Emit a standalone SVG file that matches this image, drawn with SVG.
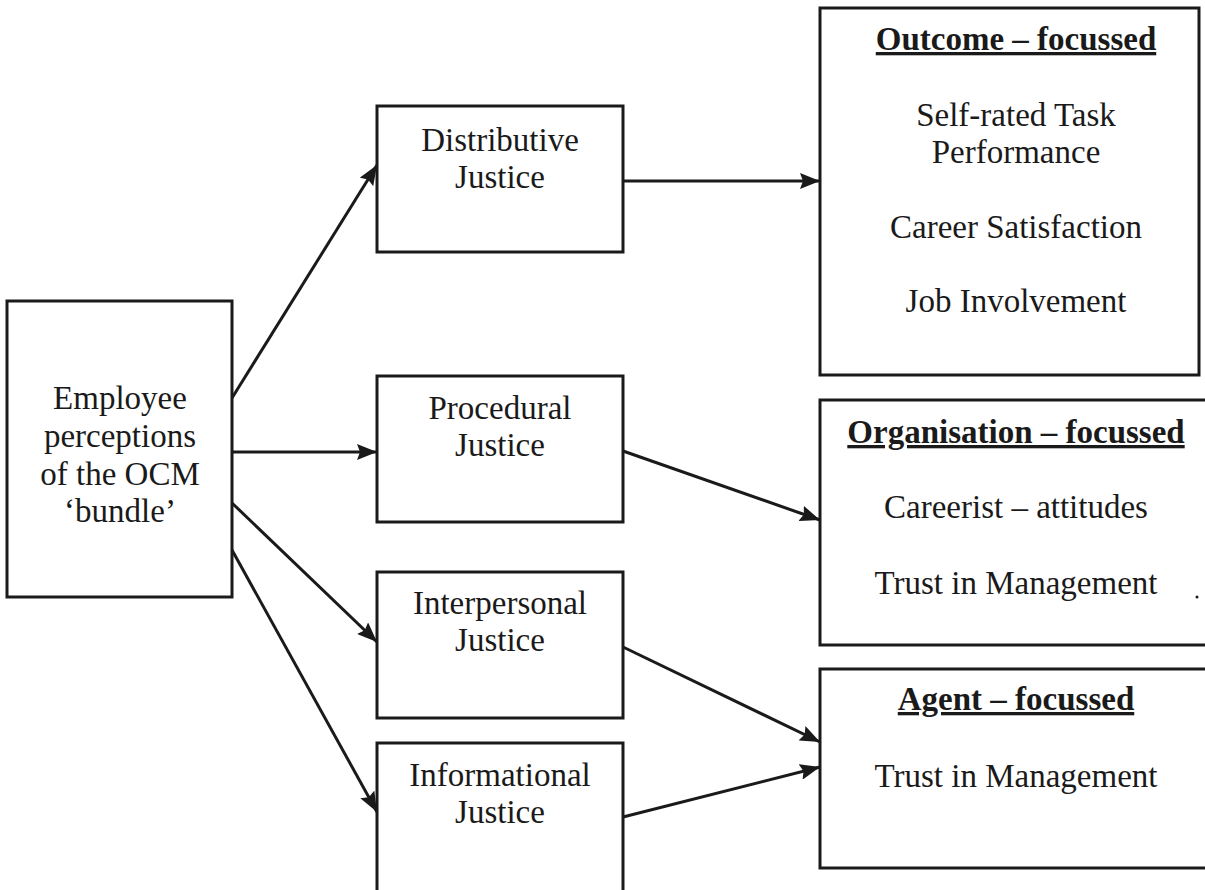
<svg xmlns="http://www.w3.org/2000/svg" width="1205" height="890" viewBox="0 0 1205 890">
  <style>
    .box { fill: #ffffff; stroke: #1a1a1a; stroke-width: 3; }
    .lbl { font-family: "Liberation Serif", "Times New Roman", serif; font-size: 33px; fill: #1a1a1a; text-anchor: middle; }
    .head { font-weight: bold; text-decoration: underline; }
    .conn { stroke: #1a1a1a; stroke-width: 3; fill: none; marker-end: url(#arrow); }
  </style>
  <defs>
    <marker id="arrow" markerUnits="userSpaceOnUse" markerWidth="22" markerHeight="16" refX="20" refY="8" orient="auto">
      <path d="M0,0 L20,8 L0,16 L3,8 z" fill="#1a1a1a"/>
    </marker>
  </defs>
  <rect width="1205" height="890" fill="#ffffff"/>

  <!-- source -->
  <g id="employee">
    <rect class="box" x="7" y="301" width="225" height="296"/>
    <text class="lbl" x="120" y="409">Employee</text>
    <text class="lbl" x="120" y="447">perceptions</text>
    <text class="lbl" x="120" y="485">of the OCM</text>
    <text class="lbl" x="120" y="522">‘bundle’</text>
  </g>

  <!-- justice dimensions -->
  <g id="distributive">
    <rect class="box" x="377" y="106" width="246" height="146"/>
    <text class="lbl" x="500" y="151">Distributive</text>
    <text class="lbl" x="500" y="188">Justice</text>
  </g>
  <g id="procedural">
    <rect class="box" x="377" y="376" width="246" height="146"/>
    <text class="lbl" x="500" y="419">Procedural</text>
    <text class="lbl" x="500" y="456">Justice</text>
  </g>
  <g id="interpersonal">
    <rect class="box" x="377" y="572" width="246" height="146"/>
    <text class="lbl" x="500" y="614">Interpersonal</text>
    <text class="lbl" x="500" y="651">Justice</text>
  </g>
  <g id="informational">
    <rect class="box" x="377" y="743" width="246" height="160"/>
    <text class="lbl" x="500" y="786">Informational</text>
    <text class="lbl" x="500" y="823">Justice</text>
  </g>

  <!-- outcome groups -->
  <g id="outcome">
    <rect class="box" x="820" y="8" width="379" height="367"/>
    <text class="lbl head" x="1016" y="50">Outcome – focussed</text>
    <text class="lbl" x="1016" y="126">Self-rated Task</text>
    <text class="lbl" x="1016" y="163">Performance</text>
    <text class="lbl" x="1016" y="238">Career Satisfaction</text>
    <text class="lbl" x="1016" y="312">Job Involvement</text>
  </g>
  <g id="organisation">
    <rect class="box" x="820" y="400" width="395" height="245"/>
    <text class="lbl head" x="1016" y="443">Organisation – focussed</text>
    <text class="lbl" x="1016" y="518">Careerist – attitudes</text>
    <text class="lbl" x="1016" y="594">Trust in Management</text>
    <circle cx="1197" cy="597" r="1.5" fill="#1a1a1a"/>
  </g>
  <g id="agent">
    <rect class="box" x="820" y="669" width="395" height="199"/>
    <text class="lbl head" x="1016" y="710">Agent – focussed</text>
    <text class="lbl" x="1016" y="787">Trust in Management</text>
  </g>

  <!-- connectors -->
  <g id="connectors">
    <line class="conn" x1="232" y1="398" x2="377" y2="165"/>
    <line class="conn" x1="232" y1="452" x2="377" y2="452"/>
    <line class="conn" x1="232" y1="503" x2="377" y2="642"/>
    <line class="conn" x1="232" y1="550" x2="377" y2="812"/>
    <line class="conn" x1="623" y1="181" x2="820" y2="181"/>
    <line class="conn" x1="623" y1="451" x2="820" y2="520"/>
    <line class="conn" x1="623" y1="647" x2="820" y2="742"/>
    <line class="conn" x1="623" y1="817" x2="820" y2="767"/>
  </g>
</svg>
